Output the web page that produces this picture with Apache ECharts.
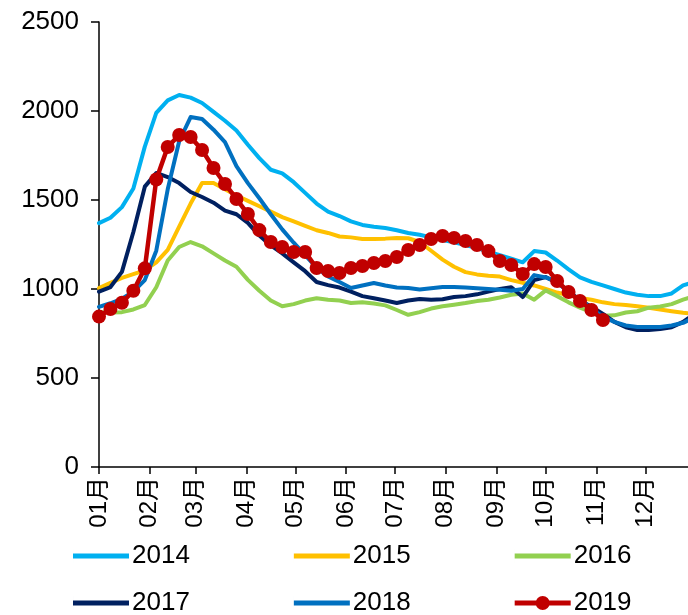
<!DOCTYPE html>
<html>
<head>
<meta charset="utf-8">
<title>2014-2019 weekly</title>
<script src="https://cdn.jsdelivr.net/npm/echarts@6/dist/echarts.min.js"></script>
<style>
  html, body { margin: 0; padding: 0; background: #fff; }
  #chart { width: 688px; height: 615px; }
</style>
</head>
<body>
<div id="chart"></div>
<script>
// --- Data: day-of-year of each weekly reading, month ticks, one array per year ---
const weekDays = [0, 7, 14, 21, 28, 35, 42, 49, 56, 63, 70, 77, 84, 91, 98, 105, 112, 119,
  126, 133, 140, 147, 154, 161, 168, 175, 182, 189, 196, 203, 210, 217, 224, 231, 238, 245,
  252, 259, 266, 273, 280, 287, 294, 301, 308, 315, 322, 329, 336, 343, 350, 357, 364];

const monthStarts = [0, 31, 59, 90, 120, 151, 181, 212, 243, 273, 304, 334];
const monthLabels = ["01月", "02月", "03月", "04月", "05月", "06月",
  "07月", "08月", "09月", "10月", "11月", "12月"];

const years = ["2014", "2015", "2016", "2017", "2018", "2019"];
const colors = ["#00B0F0", "#FFC000", "#92D050", "#002060", "#0070C0", "#C00000"];

const v2014 = [1370, 1400, 1460, 1565, 1800, 1990, 2060, 2090, 2075, 2045, 1995, 1945, 1890,
  1810, 1735, 1670, 1650, 1600, 1540, 1480, 1435, 1410, 1380, 1360, 1350, 1343, 1330, 1315,
  1305, 1290, 1275, 1262, 1247, 1230, 1210, 1190, 1170, 1150, 1213, 1205, 1160, 1110, 1065,
  1040, 1020, 1000, 980, 968, 960, 960, 975, 1020, 1040];
const v2015 = [1005, 1034, 1062, 1084, 1105, 1150, 1220, 1350, 1480, 1595, 1595, 1560, 1525,
  1495, 1465, 1435, 1404, 1380, 1355, 1330, 1315, 1295, 1290, 1281, 1281, 1283, 1287, 1285,
  1264, 1215, 1165, 1125, 1095, 1082, 1075, 1070, 1050, 1035, 1020, 1000, 980, 965, 950,
  940, 925, 915, 910, 903, 895, 885, 875, 866, 862];
const v2016 = [870, 868, 870, 885, 910, 1010, 1160, 1236, 1264, 1240, 1200, 1160, 1125,
  1051, 990, 935, 903, 915, 935, 948, 940, 935, 921, 925, 918, 908, 882, 855,
  870, 890, 903, 912, 921, 932, 940, 952, 968, 975, 940, 992, 960, 925, 895,
  870, 850, 852, 868, 875, 895, 902, 915, 940, 960];
const v2017 = [985, 1011, 1096, 1320, 1575, 1652, 1629, 1595, 1545, 1517, 1485, 1440, 1420,
  1371, 1300, 1245, 1200, 1150, 1100, 1039, 1022, 1008, 985, 960, 948, 935, 921, 935,
  944, 940, 942, 955, 960, 970, 985, 1000, 1010, 955, 1050, 1067, 1034, 990, 935,
  900, 860, 815, 785, 770, 770, 775, 785, 815, 860];
const v2018 = [900, 920, 945, 985, 1050, 1215, 1560, 1830, 1966, 1955, 1895, 1825, 1690,
  1595, 1510, 1420, 1335, 1260, 1190, 1120, 1070, 1039, 1006, 1020, 1034, 1020, 1008, 1006,
  997, 1004, 1011, 1011, 1008, 1004, 1000, 996, 990, 1000, 1078, 1065, 1040, 980, 940,
  890, 845, 815, 795, 787, 787, 787, 795, 810, 840];
const v2019 = [845, 888, 923, 990, 1116, 1615, 1798, 1865, 1854, 1781, 1680, 1590, 1506,
  1421, 1331, 1264, 1236, 1208, 1208, 1118, 1101, 1090, 1118, 1129, 1146, 1157, 1180, 1219,
  1247, 1281, 1298, 1287, 1270, 1247, 1213, 1157, 1135, 1084, 1140, 1124, 1045, 983, 933,
  882, 826];

const values = [v2014, v2015, v2016, v2017, v2018, v2019];

// --- Shared text style ---
const FONT = "'Liberation Sans', Arial, 'Noto Sans CJK SC', sans-serif";
// legend icons: thick bar for plain lines, bar + dot for the marked year
const BAR_ICON = "path://M0,4.5H56V9.5H0Z M0,0H0.01V14H0Z";
const DOT_ICON = "path://M0,4.5H22V9.5H0Z M34,4.5H56V9.5H34Z M21,7A7,7 0 1 1 35,7A7,7 0 1 1 21,7Z";

function pairs(vals) {
  return vals.map((v, i) => [weekDays[i], v]);
}

const series = years.map((y, i) => {
  const isLast = i === years.length - 1;
  return {
    name: y,
    type: "line",
    data: pairs(values[i]),
    color: colors[i],
    symbol: isLast ? "circle" : "none",
    symbolSize: isLast ? 14 : 0,
    showSymbol: isLast,
    lineStyle: { width: isLast ? 4.5 : 4, cap: "round", join: "round" },
    itemStyle: { color: colors[i] },
    z: 2 + i,
  };
});

function legendItems(names) {
  return names.map((n) => ({ name: n, icon: n === "2019" ? DOT_ICON : BAR_ICON }));
}

const legendBase = {
  left: 68,
  itemWidth: 56,
  itemHeight: 14,
  itemGap: 104,
  symbolKeepAspect: true,
  textStyle: { fontSize: 26, color: "#000", fontFamily: FONT, padding: [0, 0, 0, -2] },
};

const option = {
  animation: false,
  grid: { left: 99, right: 0, top: 22, bottom: 148 },
  legend: [
    { ...legendBase, top: 538, data: legendItems(years.slice(0, 3)) },
    { ...legendBase, top: 585, data: legendItems(years.slice(3)) },
  ],
  xAxis: {
    type: "value",
    min: 0,
    max: 360,
    splitLine: { show: false },
    axisLine: { lineStyle: { color: "#000", width: 1.5 } },
    axisTick: { customValues: monthStarts, length: 7, lineStyle: { color: "#000", width: 1.5 } },
    axisLabel: {
      customValues: monthStarts,
      rotate: 90,
      margin: 10,
      fontSize: 24,
      color: "#000",
      fontFamily: FONT,
      formatter: (v) => monthLabels[monthStarts.indexOf(v)] || "",
    },
  },
  yAxis: {
    type: "value",
    min: 0,
    max: 2500,
    interval: 500,
    splitLine: { show: false },
    axisLine: { show: true, lineStyle: { color: "#000", width: 1.5 } },
    axisTick: { show: true, length: 8, lineStyle: { color: "#000", width: 1.5 } },
    axisLabel: {
      margin: 20,
      fontSize: 26,
      color: "#000",
      fontFamily: FONT,
      formatter: (v) => String(v),
    },
  },
  series,
};

const chart = echarts.init(document.getElementById("chart"), null, { renderer: "canvas" });
chart.setOption(option);
</script>
</body>
</html>
